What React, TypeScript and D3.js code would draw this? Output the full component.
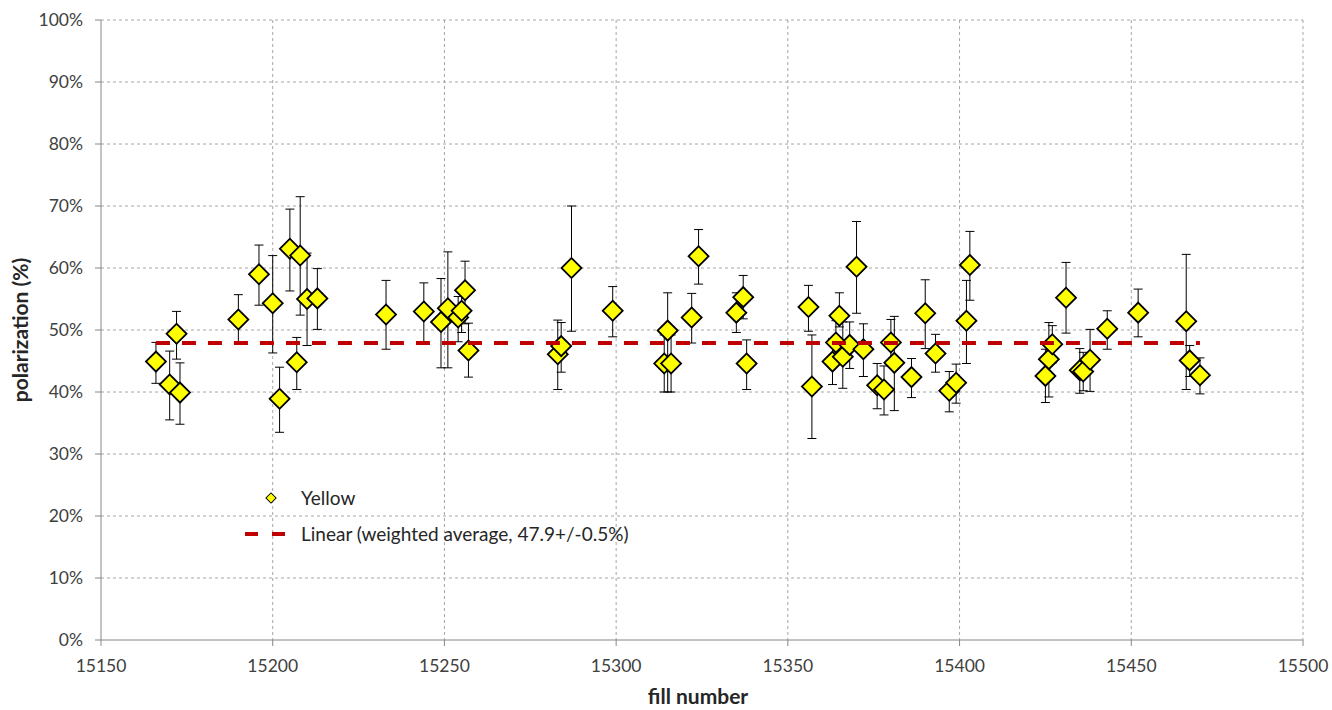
import React from "react";
import * as d3 from "d3";

const fills = [15166, 15170, 15172, 15173, 15190, 15196, 15200, 15202, 15205, 15207, 15208, 15210, 15213,
  15233, 15244, 15249, 15251, 15254, 15255, 15256, 15257, 15283, 15284, 15287, 15299,
  15314, 15315, 15316, 15322, 15324, 15335, 15337, 15338, 15356, 15357, 15363, 15364, 15365, 15366,
  15368, 15370, 15372, 15376, 15378, 15380, 15381, 15386, 15390, 15393, 15397, 15399, 15402, 15403,
  15425, 15426, 15427, 15431, 15435, 15436, 15438, 15443, 15452, 15466, 15467, 15470];
const polarization = [44.9, 41.2, 49.4, 39.9, 51.7, 59.0, 54.3, 38.9, 63.1, 44.8, 62.0, 55.0, 55.1,
  52.5, 53.0, 51.3, 53.5, 52.0, 53.1, 56.4, 46.7, 46.1, 47.4, 60.0, 53.1,
  44.6, 49.9, 44.6, 52.0, 61.9, 52.8, 55.3, 44.6, 53.7, 40.9, 44.9, 48.0, 52.3, 45.7,
  47.6, 60.2, 46.9, 41.1, 40.4, 48.0, 44.7, 42.4, 52.7, 46.2, 40.2, 41.5, 51.5, 60.5,
  42.6, 45.3, 47.7, 55.2, 43.5, 43.3, 45.2, 50.2, 52.8, 51.4, 45.1, 42.7];
const upper = [48.0, 46.6, 53.0, 44.7, 55.7, 63.7, 62.0, 44.0, 69.5, 48.8, 71.5, 62.4, 59.9,
  58.0, 57.6, 58.3, 62.6, 55.4, 56.6, 61.1, 51.1, 51.6, 51.2, 70.0, 57.0,
  49.2, 56.0, 49.2, 55.9, 66.2, 56.0, 58.8, 48.4, 57.2, 49.2, 48.6, 51.5, 56.0, 51.3,
  51.3, 67.5, 51.0, 44.6, 44.2, 51.7, 52.2, 45.4, 58.1, 49.3, 43.3, 44.5, 58.0, 65.9,
  46.9, 51.2, 50.7, 60.9, 47.0, 46.4, 50.1, 53.1, 56.6, 62.2, 47.5, 45.5];
const lower = [41.4, 35.5, 45.3, 34.8, 47.9, 54.0, 46.3, 33.5, 56.3, 40.4, 52.4, 47.5, 50.1,
  46.9, 47.9, 43.9, 43.9, 48.1, 49.6, 51.0, 42.4, 40.4, 43.2, 49.8, 48.9,
  40.0, 40.0, 40.0, 47.9, 57.4, 49.6, 51.8, 40.4, 49.8, 32.5, 41.2, 44.5, 50.5, 40.6,
  43.8, 52.7, 42.5, 37.3, 36.3, 44.3, 37.0, 39.1, 47.0, 43.2, 36.8, 38.2, 44.6, 54.8,
  38.3, 39.2, 44.7, 49.5, 39.8, 40.2, 40.1, 46.9, 48.9, 40.4, 42.5, 39.7];
const weightedAverage = 47.9;
const xTicks = [15150, 15200, 15250, 15300, 15350, 15400, 15450, 15500];
const yTicks = [0, 10, 20, 30, 40, 50, 60, 70, 80, 90, 100];
const seriesName = "Yellow";
const trendName = "Linear (weighted average, 47.9+/-0.5%)";

const W = 1332, H = 710;
const left = 101, right = 1303, top = 20, bottom = 640;
const FONT = "Lato, 'Open Sans', sans-serif";

export default function App() {
  const x = d3.scaleLinear().domain([15150, 15500]).range([left, right]);
  const y = d3.scaleLinear().domain([0, 100]).range([bottom, top]);
  const grid = "#a6a6a6";
  const axisC = "#868686";
  const diamond = d3.symbol().type(d3.symbolSquare).size(200)();
  const smallDiamond = d3.symbol().type(d3.symbolSquare).size(52)();
  const idx = d3.range(fills.length);
  const trendX = d3.extent(fills) as [number, number];
  const line = d3.line<number>().x((d) => x(d)).y(() => y(weightedAverage));

  return (
    <svg width={W} height={H} style={{ position: "absolute", left: 0, top: 0, background: "#fff" }}>
      {/* gridlines */}
      {yTicks.filter((t) => t > 0).map((t) => (
        <line key={"gy" + t} x1={left} x2={right} y1={y(t)} y2={y(t)} stroke={grid} strokeWidth={1} strokeDasharray="3,3" />
      ))}
      {xTicks.filter((t) => t > 15150).map((t) => (
        <line key={"gx" + t} x1={x(t)} x2={x(t)} y1={top} y2={bottom} stroke={grid} strokeWidth={1} strokeDasharray="3,3" />
      ))}
      {/* axes */}
      <line x1={left} x2={left} y1={top} y2={bottom} stroke={axisC} strokeWidth={1} />
      <line x1={left} x2={right} y1={bottom} y2={bottom} stroke={axisC} strokeWidth={1} />
      {yTicks.map((t) => (
        <g key={"yt" + t}>
          <line x1={left - 6} x2={left} y1={y(t)} y2={y(t)} stroke={axisC} />
          <text x={83} y={y(t)} dy="0.35em" textAnchor="end" fontFamily={FONT} fontSize={17.5} fill="#404040">{t + "%"}</text>
        </g>
      ))}
      {xTicks.map((t) => (
        <g key={"xt" + t}>
          <line x1={x(t)} x2={x(t)} y1={bottom} y2={bottom + 6} stroke={axisC} />
          <text x={x(t)} y={672} textAnchor="middle" fontFamily={FONT} fontSize={17.5} fill="#404040">{t}</text>
        </g>
      ))}
      <text x={(left + right) / 2 - 4} y={704} textAnchor="middle" fontFamily={FONT} fontSize={21} fontWeight="bold" fill="#262626">fill number</text>
      <text transform={`translate(28, ${(top + bottom) / 2}) rotate(-90)`} textAnchor="middle" fontFamily={FONT} fontSize={21} fontWeight="bold" fill="#262626">polarization (%)</text>

      {/* error bars */}
      {idx.map((i) => (
        <g key={"e" + i} stroke="#000" strokeWidth={1}>
          <line x1={x(fills[i])} x2={x(fills[i])} y1={y(upper[i])} y2={y(lower[i])} />
          <line x1={x(fills[i]) - 4.5} x2={x(fills[i]) + 4.5} y1={y(upper[i])} y2={y(upper[i])} />
          <line x1={x(fills[i]) - 4.5} x2={x(fills[i]) + 4.5} y1={y(lower[i])} y2={y(lower[i])} />
        </g>
      ))}
      {/* markers */}
      {idx.map((i) => (
        <path key={"m" + i} d={diamond} transform={`translate(${x(fills[i])},${y(polarization[i])}) rotate(45)`}
          fill="#ffff00" stroke="#000" strokeWidth={1.8} />
      ))}
      {/* trend line */}
      <path d={line(trendX) || ""} stroke="#c00000" strokeWidth={3.8} strokeDasharray="14,12" fill="none" />

      {/* legend */}
      <path d={smallDiamond} transform="translate(271,498) rotate(45)" fill="#ffff00" stroke="#000" strokeWidth={1} />
      <text x={301} y={498} dy="0.35em" fontFamily={FONT} fontSize={19} fill="#262626">{seriesName}</text>
      <line x1={245} x2={286} y1={534} y2={534} stroke="#c00000" strokeWidth={3.8} strokeDasharray="13,14" />
      <text x={301} y={534} dy="0.35em" fontFamily={FONT} fontSize={19} fill="#262626">{trendName}</text>
    </svg>
  );
}
